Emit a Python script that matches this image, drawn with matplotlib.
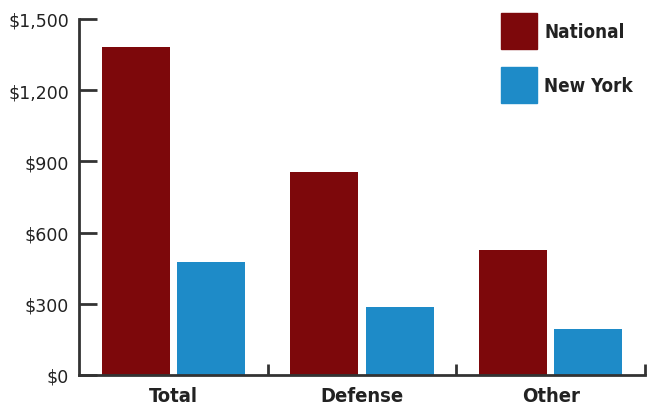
import numpy as np
import matplotlib.pyplot as plt
from matplotlib.patches import Patch

# dados
categorias = ['Total', 'Defense', 'Other']
nacional = [1380, 855, 525]
nova_york = [475, 285, 195]
ticks_y = [0, 300, 600, 900, 1200, 1500]
rotulos_y = ['$0', '$300', '$600', '$900', '$1,200', '$1,500']

cor_nacional = '#7D080B'
cor_ny = '#1E8BC8'
cor_eixo = '#333333'
fonte = ['DejaVu Sans']

fig = plt.figure(figsize=(6.47, 4.06), dpi=100)
ax = fig.add_axes([0.122, 0.074, 0.875, 0.877])

x = np.arange(len(categorias))
largura = 0.36
ax.bar(x - 0.2, nacional, largura, color=cor_nacional, label='National')
ax.bar(x + 0.2, nova_york, largura, color=cor_ny, label='New York')

ax.set_xlim(-0.5, 2.5)
ax.set_ylim(0, 1500)

for lado in ['top', 'right']:
    ax.spines[lado].set_visible(False)
for lado in ['left', 'bottom']:
    ax.spines[lado].set_color(cor_eixo)
    ax.spines[lado].set_linewidth(2)

ax.set_yticks(ticks_y)
ax.set_yticklabels(rotulos_y, family=fonte, fontsize=12.5)
ax.tick_params(axis='y', direction='in', length=13, width=2, color=cor_eixo,
               pad=7, labelcolor='#222222')

ax.set_xticks(x)
ax.set_xticklabels(categorias, family=fonte, stretch='condensed', fontsize=14.5,
                   fontweight='bold')
ax.tick_params(axis='x', which='major', length=0, pad=8, labelcolor='#222222')
ax.set_xticks([0.5, 1.5, 2.5], minor=True)
ax.tick_params(axis='x', which='minor', direction='in', length=8, width=2,
               color=cor_eixo)

handles = [Patch(color=cor_nacional, label='National'),
           Patch(color=cor_ny, label='New York')]
leg = fig.legend(handles=handles, loc='upper left',
                 bbox_to_anchor=(501 / 647, 1 - 14 / 406),
                 frameon=False, borderpad=0, borderaxespad=0,
                 handlelength=1.9, handleheight=2.6, handletextpad=0.4,
                 labelspacing=0.95,
                 prop={'family': fonte, 'stretch': 'condensed', 'size': 13.5,
                       'weight': 'bold'})
for t in leg.get_texts():
    t.set_color('#222222')

plt.savefig('out.png', dpi=100)
